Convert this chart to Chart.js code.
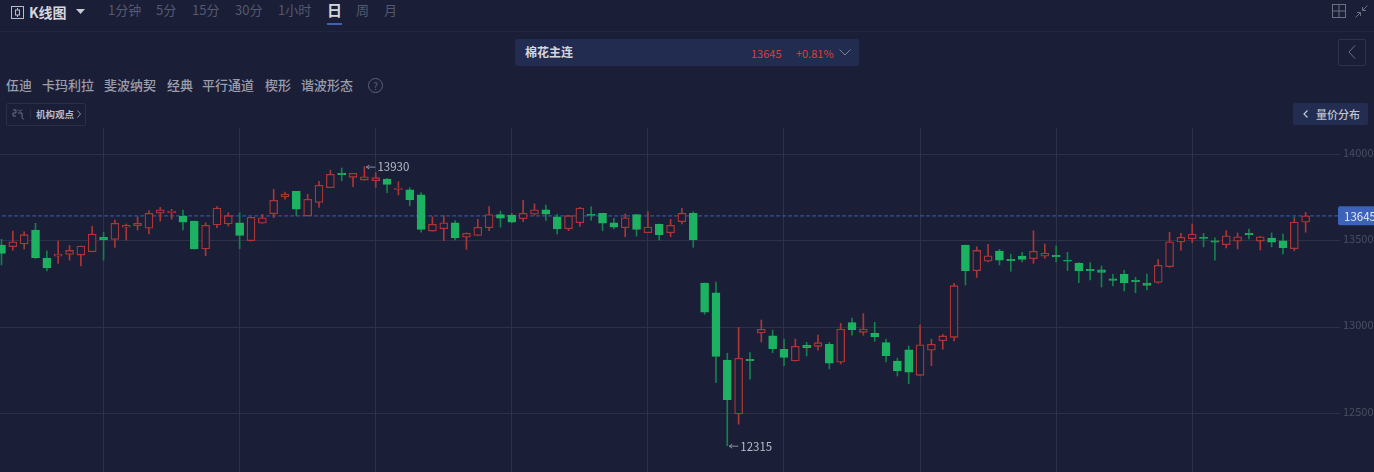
<!DOCTYPE html>
<html>
<head>
<meta charset="utf-8">
<title>棉花主连</title>
<script src="https://cdn.jsdelivr.net/npm/chart.js@4"></script>
<style>
    html, body { margin: 0; padding: 0; width: 1374px; height: 472px; overflow: hidden; background: #1a1e37; font-family: "Noto Sans CJK SC", "Noto Sans", sans-serif; }
    .t { position: absolute; white-space: nowrap; line-height: 16px; }
    .tab { top: 2px; font-size: 13px; color: #545970; }
    .tool { top: 77px; font-size: 13px; font-weight: 500; color: #9a9dab; }
    svg { position: absolute; overflow: visible; }
    #chart { position: absolute; left: 0; top: 128px; }
</style>
</head>
<body>
<svg style="left:11px;top:6px" width="14" height="14" fill="none" stroke="#b9bcc8" stroke-width="1"><rect x=".5" y=".5" width="12" height="12"/><rect x="4.5" y="4" width="4" height="5"/><path d="M6.5 2v2M6.5 9v2"/></svg>
<div class="t" style="left:29px;top:4px;font-size:14px;font-weight:700;color:#d5d7df">K线图</div>
<svg style="left:76px;top:9px" width="10" height="6"><path d="M0 0h9l-4.500 5z" fill="#c9cbd4"/></svg>
<div class="t tab" style="left:108px">1分钟</div>
<div class="t tab" style="left:156px">5分</div>
<div class="t tab" style="left:192px">15分</div>
<div class="t tab" style="left:235px">30分</div>
<div class="t tab" style="left:278px">1小时</div>
<div class="t tab" style="left:327px;font-size:15px;font-weight:700;color:#d5d7df">日</div>
<div style="position:absolute;left:327px;top:23px;width:15px;height:2px;background:#3d62ba"></div>
<div class="t tab" style="left:356px">周</div>
<div class="t tab" style="left:384px">月</div>
<svg style="left:1332px;top:4px" width="14" height="14" fill="none" stroke="#6c7083"><rect x=".5" y=".5" width="13" height="13"/><path d="M7 0v14M0 7h14"/></svg>
<svg style="left:1355px;top:5px" width="13" height="13" fill="none" stroke="#6c7083"><path d="M12.500 .5L7.500 5.500M7.500 2v3.500H11M.5 12.500L5.500 7.500M2 7.500h3.500V11"/></svg>
<div style="position:absolute;left:0;top:31px;width:1374px;height:1px;background:#212640"></div>

<div style="position:absolute;left:515px;top:39px;width:344px;height:27px;background:#222c50;border-radius:2px"></div>
<div class="t" style="left:525px;top:44px;font-size:12px;font-weight:700;color:#d5d7df">棉花主连</div>
<div class="t" style="left:751px;top:45px;font-size:11px;color:#d9403a">13645</div>
<div class="t" style="left:796px;top:45px;font-size:11px;color:#d9403a">+0.81%</div>
<svg style="left:839px;top:49px" width="12" height="7" fill="none" stroke="#7d8296"><path d="M.5 .5l5.500 5.500 5.500-5.500"/></svg>
<div style="position:absolute;left:1338px;top:39px;width:26px;height:25px;border:1px solid #2e3349;border-radius:2px"></div>
<svg style="left:1348px;top:45px" width="8" height="14" fill="none" stroke="#6c7083"><path d="M7 .5L1 7l6 6.500"/></svg>

<div class="t tool" style="left:6px">伍迪</div>
<div class="t tool" style="left:42px">卡玛利拉</div>
<div class="t tool" style="left:104px">斐波纳契</div>
<div class="t tool" style="left:167px">经典</div>
<div class="t tool" style="left:202px">平行通道</div>
<div class="t tool" style="left:265px">楔形</div>
<div class="t tool" style="left:301px">谐波形态</div>
<div style="position:absolute;left:368px;top:78px;width:13px;height:13px;border:1px solid #5f6377;border-radius:50%;color:#5f6377;font-size:10px;line-height:13px;text-align:center">?</div>

<div style="position:absolute;left:6px;top:103px;width:78px;height:21px;border:1px solid #2b3048;border-radius:2px"></div>
<svg style="left:12px;top:109px" width="12" height="11" fill="none" stroke="#6c7083"><path d="M1 1h3v3H1v3h3M6 .5l2 2 2-2M6 4h4v4c0 1.500 1 2 2 2"/></svg>
<div style="position:absolute;left:30px;top:109px;width:1px;height:10px;background:#2b3048"></div>
<div class="t" style="left:36px;top:106px;font-size:9.500px;font-weight:700;color:#b9bcc8">机构观点</div>
<svg style="left:77px;top:110px" width="4" height="8" fill="none" stroke="#8a8e9f"><path d="M.5 .5l3 3.500-3 3.500"/></svg>
<div style="position:absolute;left:1293px;top:103px;width:75px;height:22px;background:#232d52;border-radius:2px"></div>
<svg style="left:1303px;top:110px" width="5" height="8" fill="none" stroke="#c2c5cf" stroke-width="1.200"><path d="M4.500 .5L1 4l3.500 3.500"/></svg>
<div class="t" style="left:1316px;top:106px;font-size:11px;font-weight:500;color:#c2c5cf">量价分布</div>

<canvas id="chart" width="1374" height="344"></canvas>

<script>
    // Daily candles, oldest first
    var opens = [13476, 13467, 13482, 13563, 13401, 13412, 13422, 13418, 13437, 13521, 13509, 13579, 13588, 13573, 13660, 13663, 13644, 13615, 13453, 13592, 13598, 13605, 13501, 13603, 13657, 13756, 13787, 13644, 13723, 13808, 13893, 13868, 13852, 13848, 13858, 13798, 13796, 13766, 13557, 13570, 13605, 13522, 13532, 13576, 13652, 13650, 13628, 13654, 13680, 13640, 13570, 13605, 13654, 13660, 13605, 13576, 13652, 13547, 13596, 13547, 13611, 13660, 13256, 13200, 12811, 12498, 12815, 12967, 12951, 12873, 12805, 12896, 12890, 12902, 12798, 13027, 12971, 12965, 12911, 12805, 12870, 12722, 12868, 12922, 12942, 13476, 13328, 13382, 13441, 13393, 13412, 13397, 13412, 13417, 13388, 13370, 13336, 13332, 13281, 13307, 13272, 13256, 13260, 13351, 13494, 13513, 13521, 13501, 13478, 13498, 13544, 13499, 13517, 13501, 13455, 13608];
    var closes = [13428, 13495, 13536, 13403, 13343, 13424, 13445, 13470, 13540, 13507, 13602, 13590, 13602, 13660, 13680, 13673, 13608, 13453, 13590, 13690, 13646, 13532, 13636, 13634, 13735, 13771, 13683, 13741, 13822, 13885, 13883, 13891, 13871, 13866, 13827, 13806, 13737, 13567, 13596, 13605, 13517, 13544, 13579, 13652, 13632, 13608, 13660, 13680, 13654, 13570, 13646, 13690, 13648, 13602, 13580, 13634, 13567, 13580, 13536, 13590, 13660, 13507, 13087, 12832, 12581, 12821, 12807, 12988, 12876, 12826, 12890, 12882, 12911, 12792, 12990, 12986, 12990, 12945, 12836, 12747, 12741, 12899, 12902, 12950, 13241, 13328, 13445, 13414, 13388, 13385, 13393, 13440, 13430, 13407, 13382, 13326, 13328, 13318, 13272, 13258, 13262, 13243, 13359, 13495, 13521, 13540, 13515, 13492, 13530, 13524, 13536, 13524, 13493, 13461, 13609, 13645];
    var highs = [13509, 13557, 13553, 13602, 13443, 13499, 13474, 13470, 13584, 13550, 13621, 13598, 13640, 13675, 13694, 13683, 13679, 13615, 13605, 13698, 13663, 13663, 13638, 13654, 13799, 13783, 13787, 13770, 13845, 13910, 13922, 13891, 13930, 13895, 13862, 13842, 13808, 13779, 13640, 13646, 13617, 13547, 13625, 13698, 13673, 13660, 13735, 13714, 13708, 13654, 13648, 13694, 13698, 13660, 13631, 13656, 13654, 13669, 13598, 13625, 13689, 13669, 13256, 13262, 12850, 13000, 12853, 13042, 12984, 12932, 12932, 12913, 12955, 12913, 13023, 13054, 13079, 13029, 12932, 12822, 12892, 13013, 12932, 12959, 13254, 13476, 13466, 13480, 13451, 13424, 13434, 13559, 13482, 13472, 13434, 13374, 13374, 13355, 13307, 13330, 13289, 13308, 13393, 13550, 13544, 13598, 13544, 13518, 13559, 13546, 13569, 13527, 13546, 13540, 13636, 13665];
    var lows = [13361, 13447, 13453, 13399, 13326, 13370, 13389, 13355, 13437, 13389, 13463, 13505, 13563, 13540, 13615, 13625, 13563, 13453, 13414, 13576, 13586, 13455, 13499, 13602, 13634, 13741, 13644, 13644, 13694, 13808, 13848, 13814, 13852, 13810, 13779, 13766, 13704, 13550, 13557, 13501, 13505, 13451, 13530, 13559, 13579, 13605, 13611, 13650, 13619, 13540, 13559, 13584, 13619, 13559, 13569, 13524, 13528, 13547, 13505, 13524, 13599, 13463, 13075, 12679, 12315, 12439, 12700, 12915, 12853, 12778, 12805, 12834, 12868, 12759, 12788, 12955, 12954, 12919, 12799, 12718, 12674, 12718, 12778, 12873, 12921, 13245, 13289, 13379, 13361, 13324, 13378, 13370, 13399, 13378, 13328, 13258, 13274, 13233, 13239, 13210, 13200, 13216, 13255, 13347, 13447, 13490, 13465, 13389, 13459, 13453, 13511, 13447, 13465, 13424, 13443, 13550];
    var priceTicks = [12500, 13000, 13500, 14000];
    var gridCandles = [9, 21, 33, 45, 57, 69, 81, 93, 105];
    var lastPrice = 13645;
    var highCandle = 32;
    var lowCandle = 64;

    var RED = "#ac3636";
    var GREEN = "#1cb261";
    var GREEN_WICK = "#14804a";
    var BG = "#1a1e37";
    var GRID = "#2d3246";

    var isUp = function (i) { return closes[i] >= opens[i]; };

    var wicks = highs.map(function (h, i) { return { x: i, y: [lows[i], h] }; });
    var bodies = opens.map(function (o, i) { return { x: i, y: [Math.min(o, closes[i]), Math.max(o, closes[i])] }; });

    // High / low notes and the last price tag
    var notes = {
        id: "notes",
        afterDatasetsDraw: function (chart) {
            var c = chart.ctx, xs = chart.scales.x, ys = chart.scales.y;
            var note = function (i, value) {
                var x = xs.getPixelForValue(i) + 2, y = ys.getPixelForValue(value);
                c.save();
                c.strokeStyle = "#8b8fa0";
                c.beginPath();
                c.moveTo(x + 9, y + 0.5); c.lineTo(x, y + 0.5);
                c.moveTo(x + 3, y - 1.5); c.lineTo(x, y + 0.5); c.lineTo(x + 3, y + 2.5);
                c.stroke();
                c.fillStyle = "#b8bbc7";
                c.font = '11.5px "Noto Sans CJK SC"';
                c.textBaseline = "middle";
                c.fillText(String(value), x + 11, y + 0.5);
                c.restore();
            };
            note(highCandle, highs[highCandle]);
            note(lowCandle, lows[lowCandle]);

            var y = ys.getPixelForValue(lastPrice);
            c.save();
            c.fillStyle = "#3d62ba";
            c.beginPath();
            c.roundRect(1338, y - 9.5, 40, 19, 2);
            c.fill();
            c.fillStyle = "#e8eaf2";
            c.font = '11.5px "Noto Sans CJK SC"';
            c.textBaseline = "middle";
            c.fillText(String(lastPrice), 1344, y + 0.5);
            c.restore();
        }
    };

    var ctx = document.getElementById("chart").getContext("2d");
    var klineChart = new Chart(ctx, {
        type: "bar",
        data: {
            datasets: [{
                type: "line",
                data: [{ x: -1, y: lastPrice }, { x: 119, y: lastPrice }],
                borderColor: "#35539c",
                borderWidth: 1.3,
                borderDash: [4, 2],
                pointRadius: 0,
                order: 3
            }, {
                data: wicks,
                barThickness: 1,
                backgroundColor: function (c) { return isUp(c.dataIndex) ? RED : GREEN_WICK; },
                borderWidth: 0,
                order: 2
            }, {
                data: bodies,
                barThickness: 8,
                backgroundColor: function (c) { return isUp(c.dataIndex) ? BG : GREEN; },
                borderColor: function (c) { return isUp(c.dataIndex) ? RED : GREEN; },
                borderWidth: 1.3,
                borderSkipped: false,
                order: 1
            }]
        },
        options: {
            responsive: false,
            animation: false,
            events: [],
            layout: { padding: 0 },
            plugins: { legend: { display: false }, tooltip: { enabled: false } },
            datasets: { bar: { grouped: false } },
            scales: {
                x: {
                    type: "linear",
                    offset: false,
                    min: -0.132,
                    max: 118.03,
                    afterBuildTicks: function (s) { s.ticks = gridCandles.map(function (v) { return { value: v }; }); },
                    ticks: { display: false },
                    border: { display: false },
                    grid: { color: GRID, offset: false, drawTicks: false }
                },
                y: {
                    position: "right",
                    min: 12162.6,
                    max: 14153.4,
                    afterBuildTicks: function (s) { s.ticks = priceTicks.map(function (v) { return { value: v }; }); },
                    afterFit: function (s) { s.width = 34; s.paddingTop = 0; s.paddingBottom = 0; },
                    ticks: {
                        color: "#4a4e62",
                        padding: 3,
                        font: { size: 11, lineHeight: "4px", family: '"Noto Sans CJK SC"' },
                        // blank second line lifts the label just above its grid line
                        callback: function (v) { return [String(v), ""]; }
                    },
                    border: { display: false },
                    grid: { color: GRID, drawTicks: false }
                }
            }
        },
        plugins: [notes]
    });
</script>
</body>
</html>
